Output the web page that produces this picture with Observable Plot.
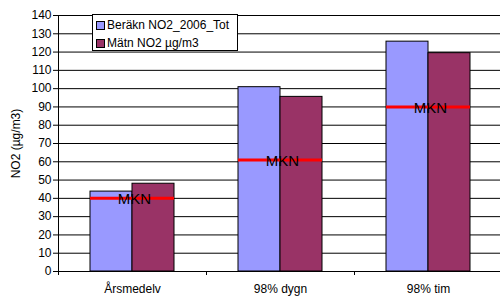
<!DOCTYPE html>
<html>
<head>
<meta charset="utf-8">
<script src="https://cdn.jsdelivr.net/npm/d3@7"></script>
<script src="https://cdn.jsdelivr.net/npm/@observablehq/plot@0.6"></script>
<style>
  html, body { margin: 0; padding: 0; background: #fff; }
  #wrap { position: relative; width: 500px; height: 298px; font-family: "Liberation Sans", Arial, sans-serif; }
  #legend { position: absolute; left: 92px; top: 14px; width: 144px; height: 35px; border: 1px solid #000; background: #fff; font-size: 12px; color: #000; }
  #legend .row { position: absolute; left: 3px; display: flex; align-items: center; white-space: nowrap; }
  #legend .sw { width: 7px; height: 7px; border: 1px solid #000; margin-right: 2px; }
</style>
</head>
<body>
<div id="wrap"><div id="chart"></div><div id="legend"></div></div>
<script>
const categories = ["Årsmedelv", "98% dygn", "98% tim"];
const series = ["Beräkn NO2_2006_Tot", "Mätn NO2 µg/m3"];
const beraknValues = [43.7, 100.8, 125.7];
const matnValues = [48, 95.5, 119.4];
const mknValues = [40, 61, 90];
const colors = ["#9999FF", "#993366"];
const yTicks = d3.range(0, 141, 10);

const bars = [];
categories.forEach((c, i) => {
  bars.push({cat: c, series: series[0], value: beraknValues[i]});
  bars.push({cat: c, series: series[1], value: matnValues[i]});
});
const mkn = [];
categories.forEach((c, i) => {
  series.forEach(s => mkn.push({cat: c, series: s, value: mknValues[i]}));
});
const mknLabels = categories.map((c, i) => ({cat: c, value: mknValues[i], label: "MKN"}));

const chart = Plot.plot({
  width: 500,
  height: 298,
  marginLeft: 57,
  marginRight: -2,
  marginTop: 15,
  marginBottom: 27,
  style: {fontFamily: "'Liberation Sans', Arial, sans-serif", fontSize: "12px", color: "#000", background: "#fff"},
  fx: {domain: categories, padding: 0, label: null, axis: null},
  x: {domain: series, paddingInner: 0, paddingOuter: 0.75, axis: null},
  y: {domain: [0, 140], axis: null},
  color: {domain: series, range: colors},
  marks: [
    Plot.gridY(yTicks, {stroke: "#000", strokeOpacity: 1}),
    Plot.axisY(yTicks, {tickSize: 5, tickPadding: 2, fontSize: 12, label: "NO2 (µg/m3)", labelAnchor: "center", labelArrow: "none", labelOffset: 47}),
    Plot.axisFx({anchor: "bottom", tickSize: 0, tickPadding: 13, fontSize: 12, label: null}),
    Plot.axisFx({anchor: "bottom", tickSize: 4, tickFormat: () => "", dx: -74, label: null}),
    Plot.barY(bars, {fx: "cat", x: "series", y: "value", fill: "series", stroke: "#000", strokeWidth: 1}),
    Plot.tickY(mkn, {fx: "cat", x: "series", y: "value", stroke: "#FF0000", strokeWidth: 3}),
    Plot.text(mknLabels, {fx: "cat", y: "value", text: "label", fontSize: 15, fill: "#000", dx: 2, dy: 1}),
    Plot.ruleY([0], {stroke: "#000"}),
    Plot.frame({anchor: "left", facetAnchor: "left", stroke: "#000"})
  ]
});
document.getElementById("chart").appendChild(chart);

const legend = document.getElementById("legend");
series.forEach((s, i) => {
  const row = document.createElement("div");
  row.className = "row";
  row.style.top = (i === 0 ? 3 : 21) + "px";
  const sw = document.createElement("span");
  sw.className = "sw";
  sw.style.background = colors[i];
  const t = document.createElement("span");
  t.textContent = s;
  row.appendChild(sw);
  row.appendChild(t);
  legend.appendChild(row);
});
</script>
</body>
</html>
